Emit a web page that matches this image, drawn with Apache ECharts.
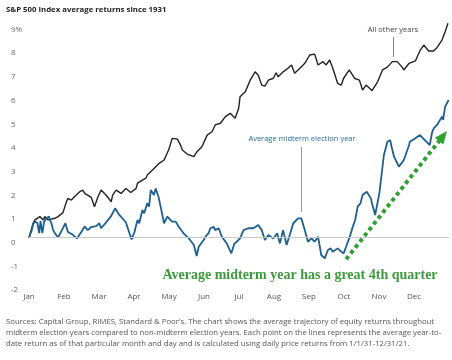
<!DOCTYPE html>
<html><head><meta charset="utf-8">
<script src="https://cdn.jsdelivr.net/npm/echarts@6/dist/echarts.min.js"></script>
<style>html,body{margin:0;padding:0;background:#fff}#c{width:452px;height:360px}</style>
</head><body><div id="c"></div>
<script>
const monthLabels = ['Jan','Feb','Mar','Apr','May','Jun','Jul','Aug','Sep','Oct','Nov','Dec'];
const yTickLabels = ['-2','-1','0','1','2','3','4','5','6','7','8','9%'];

// All other years (x = month position from Jan 1, y = avg YTD return %)
const otherMonths = [0.00,0.12,0.17,0.31,0.41,0.45,0.55,0.60,0.74,0.83,0.97,1.07,1.11,1.21,1.26,1.30,1.45,1.54,1.59,1.64,1.78,1.87,1.90,1.97,2.06,2.08,2.20,2.35,2.39,2.49,2.63,2.77,2.91,2.96,3.06,3.10,3.15,3.24,3.34,3.38,3.53,3.72,3.86,3.91,4.00,4.09,4.24,4.33,4.38,4.43,4.52,4.57,4.71,4.76,4.80,4.85,4.94,4.99,5.09,5.13,5.23,5.32,5.37,5.47,5.51,5.61,5.75,5.89,5.99,6.03,6.18,6.32,6.46,6.55,6.65,6.74,6.84,6.98,7.06,7.12,7.26,7.40,7.50,7.59,7.74,7.88,8.02,8.16,8.26,8.40,8.49,8.59,8.68,8.82,8.92,8.99,9.15,9.30,9.44,9.53,9.63,9.80,9.96,10.10,10.24,10.38,10.52,10.65,10.71,10.86,11.04,11.18,11.28,11.42,11.56,11.66,11.80,11.89,11.97];
const otherValues = [0.00,0.62,0.75,0.89,0.75,0.89,0.75,0.82,0.82,0.89,1.06,1.52,1.66,1.59,1.59,1.73,1.94,2.01,1.87,1.94,1.70,1.31,1.28,1.73,2.01,1.94,1.80,1.52,1.80,2.01,1.87,2.08,1.91,1.87,2.08,2.30,2.30,2.43,2.51,2.65,2.86,3.14,3.28,3.35,3.74,4.19,4.16,3.91,3.70,3.63,3.53,3.56,3.42,3.42,3.63,3.63,3.84,3.91,4.33,4.41,4.47,4.76,4.83,4.83,4.89,5.11,5.25,5.04,5.46,5.95,6.16,6.65,7.00,6.86,6.44,6.40,6.65,6.73,6.96,6.79,7.00,7.15,7.29,6.94,7.15,7.36,7.71,7.75,7.29,7.43,7.29,7.50,7.15,6.51,6.44,6.73,7.08,6.73,6.65,6.23,6.44,6.21,6.58,7.08,7.20,7.43,7.43,7.22,7.08,7.36,7.46,7.92,8.13,7.88,7.88,8.03,8.34,8.69,9.05];

// Average midterm election year
const midtermMonths = [0.00,0.08,0.12,0.17,0.24,0.29,0.33,0.38,0.43,0.50,0.57,0.60,0.64,0.69,0.74,0.83,0.94,0.97,1.04,1.07,1.11,1.16,1.26,1.37,1.40,1.50,1.59,1.68,1.78,1.92,2.01,2.06,2.11,2.20,2.35,2.46,2.49,2.58,2.63,2.67,2.77,2.87,2.93,3.01,3.10,3.15,3.24,3.29,3.38,3.43,3.48,3.53,3.57,3.62,3.67,3.70,3.76,3.81,3.86,3.95,4.00,4.09,4.19,4.28,4.33,4.43,4.57,4.71,4.79,4.85,4.90,4.99,5.04,5.13,5.18,5.28,5.32,5.42,5.51,5.56,5.65,5.78,5.87,5.94,6.03,6.13,6.27,6.41,6.55,6.65,6.74,6.84,6.98,7.09,7.17,7.26,7.36,7.45,7.55,7.69,7.78,7.88,7.97,8.07,8.16,8.26,8.35,8.45,8.54,8.62,8.68,8.82,8.92,8.99,9.06,9.11,9.18,9.25,9.32,9.39,9.47,9.53,9.65,9.77,9.80,9.89,10.01,10.03,10.14,10.24,10.32,10.36,10.43,10.46,10.57,10.60,10.71,10.74,10.86,10.88,11.03,11.17,11.19,11.31,11.33,11.45,11.52,11.57,11.66,11.69,11.80,11.83,11.89,11.99];
const midtermValues = [0.00,0.32,0.58,0.68,0.62,0.19,0.70,0.19,0.66,0.83,0.89,0.75,0.61,0.32,0.19,0.01,0.32,0.25,0.61,0.61,0.25,0.25,0.11,-0.03,-0.07,0.25,0.47,0.32,0.45,0.49,0.61,0.40,0.40,0.64,0.92,1.24,1.24,0.96,0.96,0.82,0.64,0.19,-0.07,0.22,0.75,0.61,1.17,1.03,1.45,1.31,2.01,2.01,1.80,2.08,2.01,1.73,1.31,1.31,0.61,0.89,0.82,0.68,0.68,0.46,0.46,0.16,-0.03,-0.31,-0.77,-0.38,-0.31,-0.10,0.04,0.19,0.40,0.46,0.32,0.40,0.04,-0.03,-0.24,-0.66,-0.24,-0.17,-0.03,0.32,0.40,0.40,0.54,0.32,-0.10,0.11,-0.03,0.19,-0.24,0.32,-0.31,0.11,0.61,0.82,0.82,0.32,-0.17,-0.03,-0.17,0.04,-0.73,-0.87,-0.52,-0.45,-0.59,-0.45,-0.59,-0.66,-0.38,-0.38,0.11,0.46,0.75,1.31,1.45,1.80,1.94,1.66,1.45,0.96,1.87,1.94,3.49,4.05,4.12,3.84,3.42,3.49,3.00,2.93,3.28,3.28,3.91,4.05,4.19,4.33,4.41,4.12,4.19,3.91,4.47,4.62,4.76,4.83,5.11,4.97,5.53,5.81];

// Annotation arrow in data coordinates (start/end month, value)
const arrowStart = [9.06, -0.91];
const arrowEnd = [11.83, 4.29];

const zip = (xs, ys) => xs.map((x, i) => [x, ys[i]]);
const chart = echarts.init(document.getElementById('c'), null, {renderer: 'canvas'});
const FONT = '"Open Sans", Lato, sans-serif';
chart.setOption({
  animation: false,
  backgroundColor: '#fff',
  grid: {left: 29, right: 0, top: 12.6, bottom: 74.9, containLabel: false},
  xAxis: {
    type: 'value', min: 0, max: 12, interval: 1,
    axisLine: {show: false}, axisTick: {show: false}, splitLine: {show: false},
    axisLabel: {color: '#555', fontSize: 8, fontFamily: FONT, margin: 8,
      formatter: v => monthLabels[Math.round(v)] || ''}
  },
  yAxis: {
    type: 'value', min: -2, max: 9.5, interval: 1,
    axisLine: {show: false}, axisTick: {show: false}, splitLine: {show: false},
    axisLabel: {color: '#666', fontSize: 8, fontFamily: FONT, margin: 18, align: 'left',
      verticalAlign: 'top', lineHeight: 10,
      formatter: v => Number.isInteger(v) ? yTickLabels[v + 2] : ''}
  },
  series: [
    {
      type: 'line', name: 'All other years', data: zip(otherMonths, otherValues),
      showSymbol: false, lineStyle: {color: '#222', width: 1.4}, z: 3,
      markLine: {silent: true, symbol: 'none', label: {show: false},
        lineStyle: {color: '#c9c9c9', width: 1, type: 'solid'},
        data: [{yAxis: 0}]}
    },
    {
      type: 'line', name: 'Average midterm election year', data: zip(midtermMonths, midtermValues),
      showSymbol: false, lineStyle: {color: '#1d5f8e', width: 1.8}, z: 4,
      markLine: {silent: true, symbol: ['none', 'triangle'], symbolSize: [11, 13],
        label: {show: false},
        lineStyle: {color: '#33a036', width: 4, type: [4, 3.4], cap: 'butt'},
        data: [[{coord: arrowStart}, {coord: arrowEnd}]]}
    }
  ],
  graphic: [
    {type: 'text', left: 6, top: 6, style: {text: 'S&P 500 Index average returns since 1931',
      font: 'bold 7.8px ' + FONT, fill: '#222'}},
    {type: 'text', x: 393, y: 30, style: {text: 'All other years', font: '7.5px ' + FONT,
      fill: '#444', align: 'center', verticalAlign: 'middle'}},
    {type: 'line', shape: {x1: 393.5, y1: 37, x2: 393.5, y2: 57}, style: {stroke: '#888', lineWidth: 1}},
    {type: 'text', x: 302, y: 139, style: {text: 'Average midterm election year', font: '7.5px ' + FONT,
      fill: '#2a6a94', align: 'center', verticalAlign: 'middle'}},
    {type: 'line', shape: {x1: 301.5, y1: 147, x2: 301.5, y2: 212}, style: {stroke: '#8a9aa8', lineWidth: 1}},
    {type: 'text', x: 300, y: 275, style: {text: 'Average midterm year has a great 4th quarter',
      font: 'bold 14px "Liberation Serif", serif', fill: '#3b9a3b', align: 'center', verticalAlign: 'middle'}},
    {type: 'text', left: 6, top: 316, style: {
      text: "Sources: Capital Group, RIMES, Standard & Poor's. The chart shows the average trajectory of equity returns throughout\nmidterm election years compared to non-midterm election years. Each point on the lines represents the average year-to-\ndate return as of that particular month and day and is calculated using daily price returns from 1/1/31-12/31/21.",
      font: '7.75px ' + FONT, fill: '#555', lineHeight: 11}}
  ]
});
</script></body></html>
